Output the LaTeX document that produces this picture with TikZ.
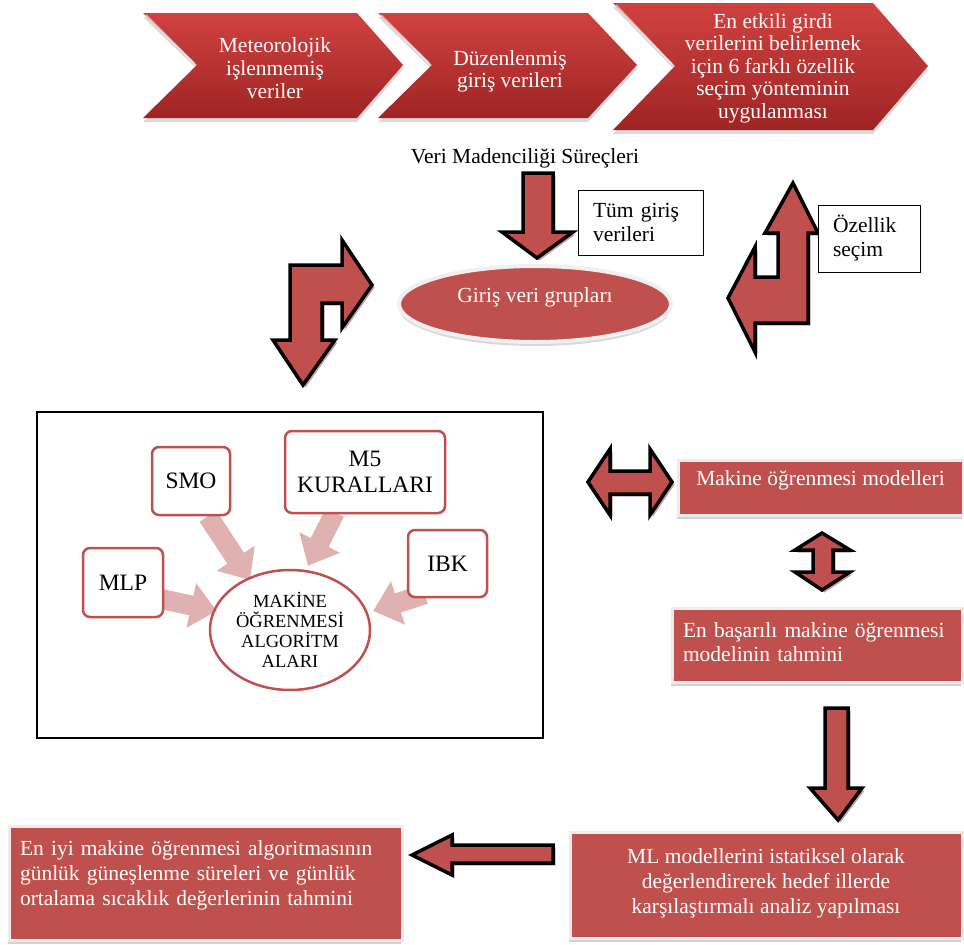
\documentclass[tikz,border=0pt]{standalone}
\usepackage{fontspec}
\setmainfont{Liberation Serif}
\usetikzlibrary{shadows,shapes.geometric,arrows.meta,calc,backgrounds}
\definecolor{boxred}{RGB}{192,80,77}
\definecolor{chevtop}{RGB}{208,66,64}
\definecolor{chevbot}{RGB}{158,36,36}
\definecolor{pinkarr}{RGB}{223,178,177}
\begin{document}
\begin{tikzpicture}[x=1pt,y=-1pt,
  base/.style={font=\fontsize{21.5pt}{24pt}\selectfont, inner sep=0pt},
  chev/.style={top color=chevtop, bottom color=chevbot, draw=none,
     drop shadow={shadow xshift=0pt, shadow yshift=-4pt, opacity=0.3}},
  chevtxt/.style={base, text=white, align=center},
  hilite/.style={draw=white, opacity=0.55, line width=1.6pt},
  blockarr/.style={fill=boxred, draw=black, line width=3.5pt, line join=miter,
     drop shadow={shadow xshift=2.5pt, shadow yshift=-2.5pt, fill=black!40!boxred, opacity=0.45}},
  redbox/.style={base, fill=boxred, draw=gray!15, line width=3pt, text=white,
     drop shadow={shadow xshift=-1.5pt, shadow yshift=-4pt, opacity=0.35}},
  plainbox/.style={base, draw=black, line width=1pt, fill=white, align=left},
  algbox/.style={draw=boxred, line width=2.5pt, rounded corners=7pt, fill=white,
     font=\fontsize{23.5pt}{26pt}\selectfont, align=center, inner sep=0pt},
  pinkarrow/.style={draw=pinkarr, line width=20pt, -{Triangle[width=44pt,length=26pt]}}
]
\useasboundingbox (0,0) rectangle (964,945);

% ---------- top chevrons ----------
\path[chev] (143,13) -- (357,13) -- (403,65) -- (357,118) -- (143,118) -- (197,65) -- cycle;
\draw[hilite] (146,15) -- (194,63);
\node[chevtxt, font=\fontsize{21.5pt}{23pt}\selectfont] (c1) at (275,68) {Meteorolojik\\işlenmemiş\\veriler};

\path[chev] (378,13) -- (588,13) -- (637,65) -- (588,118) -- (378,118) -- (432,65) -- cycle;
\draw[hilite] (381,15) -- (429,63);
\node[chevtxt, font=\fontsize{21.5pt}{22pt}\selectfont] (c2) at (510,71) {Düzenlenmiş\\giriş verileri};

\path[chev] (613,3) -- (873,3) -- (928,66) -- (873,130) -- (613,130) -- (675,66) -- cycle;
\draw[hilite] (616,5) -- (672,64);
\node[chevtxt, font=\fontsize{21.5pt}{22.5pt}\selectfont] (c3) at (773,68)
  {En etkili girdi\\verilerini belirlemek\\için 6 farklı özellik\\seçim yönteminin\\uygulanması};

% ---------- data mining ----------
\node[base] (vms) at (525,158) {Veri Madenciliği Süreçleri};

\path[blockarr] (523,173) -- (553,173) -- (553,232) -- (573,232) -- (537,258) -- (502,232) -- (523,232) -- cycle;

\node[plainbox, minimum width=125pt, minimum height=65pt, text width=95pt] (tum) at (640.5,222.5) {Tüm giriş\\verileri};

\node[ellipse, fill=boxred, draw=gray!12, line width=4pt, minimum width=272pt, minimum height=76pt,
      drop shadow={shadow xshift=0pt, shadow yshift=-4pt, opacity=0.3}] (grup) at (535,304) {};
\node[base, text=white] (gruptxt) at (535,297) {Giriş veri grupları};

% left bent arrow
\path[blockarr] (303,385) -- (335,340) -- (322,340) -- (322,303) -- (342,303) -- (342,328) -- (372,285)
  -- (342,240) -- (342,265) -- (290,265) -- (290,340) -- (273,340) -- cycle;

% right bent arrow
\path[blockarr] (793,183) -- (818,233) -- (808,233) -- (808,323) -- (755,323) -- (755,352) -- (728,298)
  -- (755,247) -- (755,277) -- (778,277) -- (778,233) -- (765,233) -- cycle;

\node[plainbox, minimum width=102pt, minimum height=67pt, text width=72pt] (ozel) at (869,238.5) {Özellik\\seçim};

% ---------- algorithm box ----------
\node[draw=black, line width=1.5pt, minimum width=506pt, minimum height=326pt, inner sep=0pt] (bigbox) at (290,575) {};

\node[ellipse, draw=boxred, line width=2.5pt, minimum width=160pt, minimum height=120pt,
      inner sep=0pt] (alg) at (290,630) {};
\node[align=center, inner sep=0pt, font=\fontsize{18.5pt}{20pt}\selectfont] (algtxt) at (290,630)
  {MAKİNE\\ÖĞRENMESİ\\ALGORİTM\\ALARI};

\node[algbox, minimum width=78pt, minimum height=68pt] (smo) at (191,481) {SMO};
\node[algbox, minimum width=160pt, minimum height=82pt] (m5) at (365,472) {M5\\KURALLARI};
\node[algbox, minimum width=80pt, minimum height=69pt] (mlp) at (123,582.5) {MLP};
\node[algbox, minimum width=79pt, minimum height=67pt] (ibk) at (447.5,563.5) {IBK};

\begin{pgfonlayer}{background}
\draw[pinkarrow] ($(smo.south)+(17,0)$) -- ($(alg)+(-40,-50)$);
\draw[pinkarrow] ($(m5.south)+(-30,-2)$) -- ($(alg.north)+(18,-3)$);
\draw[pinkarrow] ($(mlp.east)+(-10,15)$) -- ($(alg.west)+(8,-19)$);
\draw[pinkarrow] ($(ibk.south west)+(18,-4)$) -- ($(alg.east)+(2,-19)$);
\end{pgfonlayer}

% ---------- right column ----------
\path[blockarr] (588,482) -- (610,449) -- (610,471) -- (650,471) -- (650,449) -- (672,482)
  -- (650,515) -- (650,494) -- (610,494) -- (610,515) -- cycle;

\node[redbox, minimum width=285pt, minimum height=55pt, text depth=19pt] (mom) at (820.5,487.5) {Makine öğrenmesi modelleri};

\path[blockarr] (822,533) -- (850,550) -- (833,550) -- (833,572) -- (850,572) -- (822,590)
  -- (795,572) -- (813,572) -- (813,550) -- (795,550) -- cycle;

\node[redbox, minimum width=290pt, minimum height=74pt] (ebm) at (817,645) {};
\node[base, text=white, text width=268pt, align=left] (ebmtxt) at (817,642.5)
  {En başarılı makine öğrenmesi\\modelinin tahmini};

\path[blockarr] (825,708) -- (848,708) -- (848,788) -- (862,788) -- (838,820) -- (810,788) -- (825,788) -- cycle;

\node[redbox, minimum width=392pt, minimum height=106pt] (ml) at (766,885) {};
\node[base, text=white, align=center, font=\fontsize{21.5pt}{25pt}\selectfont] (mltxt) at (766,883)
  {ML modellerini istatiksel olarak\\değerlendirerek hedef illerde\\karşılaştırmalı analiz yapılması};

\path[blockarr] (412,855) -- (452,835) -- (452,845) -- (553,845) -- (553,863) -- (452,863) -- (452,875) -- cycle;

\node[redbox, minimum width=393pt, minimum height=114pt] (best) at (205.5,883) {};
\node[base, text=white, text width=371pt, align=left, font=\fontsize{21.5pt}{25pt}\selectfont] (besttxt) at (205.5,875)
  {En iyi makine öğrenmesi algoritmasının\\günlük güneşlenme süreleri ve günlük\\ortalama sıcaklık değerlerinin tahmini};

\end{tikzpicture}
\end{document}
